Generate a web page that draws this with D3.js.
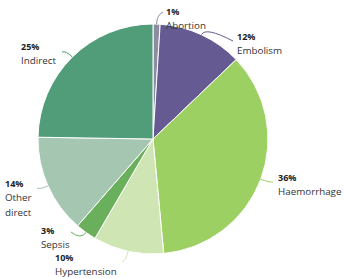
<!DOCTYPE html>
<html><head><meta charset="utf-8">
<script src="https://cdn.jsdelivr.net/npm/d3@7/dist/d3.min.js"></script>
<style>body{margin:0;background:#fff}svg{display:block;font-family:"Open Sans",sans-serif}</style>
</head><body><svg id="c" width="344" height="278"></svg>
<script>
const categories = ["Abortion","Embolism","Haemorrhage","Hypertension","Sepsis","Other direct","Indirect"];
const values = [1,12,36,10,3,14,25];
const colors = ["#8e8ca3","#655b92","#9dd063","#cfe5b3","#6aaf5b","#a5c6b0","#519d7a"];
// label layout: text x, percent baseline y, leader end point
const labelLayout = [
  {x:166, y:15, lines:["Abortion"], ex:163, ey:12},
  {x:237, y:40, lines:["Embolism"], ex:233, ey:41},
  {x:278, y:181, lines:["Haemorrhage"], ex:273, ey:182},
  {x:55, y:261, lines:["Hypertension"], ex:122, ey:262},
  {x:41, y:234, lines:["Sepsis"], ex:71, ey:232},
  {x:5, y:187, lines:["Other","direct"], ex:37, ey:188},
  {x:21, y:50, lines:["Indirect"], ex:62, ey:52}
];
const cx=153, cy=139, r=115;
const svg=d3.select("#c");
const data=categories.map((c,i)=>({name:c,value:values[i],i}));
const pie=d3.pie().sort(null).value(d=>d.value);
const arcs=pie(data);
const arc=d3.arc().innerRadius(0).outerRadius(r);
const g=svg.append("g").attr("transform",`translate(${cx},${cy})`);
g.selectAll("path").data(arcs).join("path").attr("d",arc)
 .attr("fill",d=>colors[d.data.i]).attr("stroke","#fff").attr("stroke-width",1);
// leaders
arcs.forEach(a=>{
  const L=labelLayout[a.data.i];
  const m=(a.startAngle+a.endAngle)/2;
  const p0=[cx+r*Math.sin(m), cy-r*Math.cos(m)];
  const c1=[cx+(r+9)*Math.sin(m), cy-(r+9)*Math.cos(m)];
  const p=d3.path(); p.moveTo(p0[0],p0[1]); p.quadraticCurveTo(c1[0],c1[1],L.ex,L.ey);
  svg.append("path").attr("d",p.toString()).attr("fill","none")
   .attr("stroke",colors[a.data.i]).attr("stroke-width",1);
  const t=svg.append("text").attr("x",L.x).attr("y",L.y).attr("fill","#222");
  t.append("tspan").attr("x",L.x).attr("y",L.y).attr("font-weight","bold").attr("font-size","9px")
   .text(values[a.data.i]+"%");
  L.lines.forEach((ln,k)=>{
    t.append("tspan").attr("x",L.x).attr("y",L.y+14.3*(k+1)).attr("font-size","9.8px").attr("fill","#333").text(ln);
  });
});
</script></body></html>
